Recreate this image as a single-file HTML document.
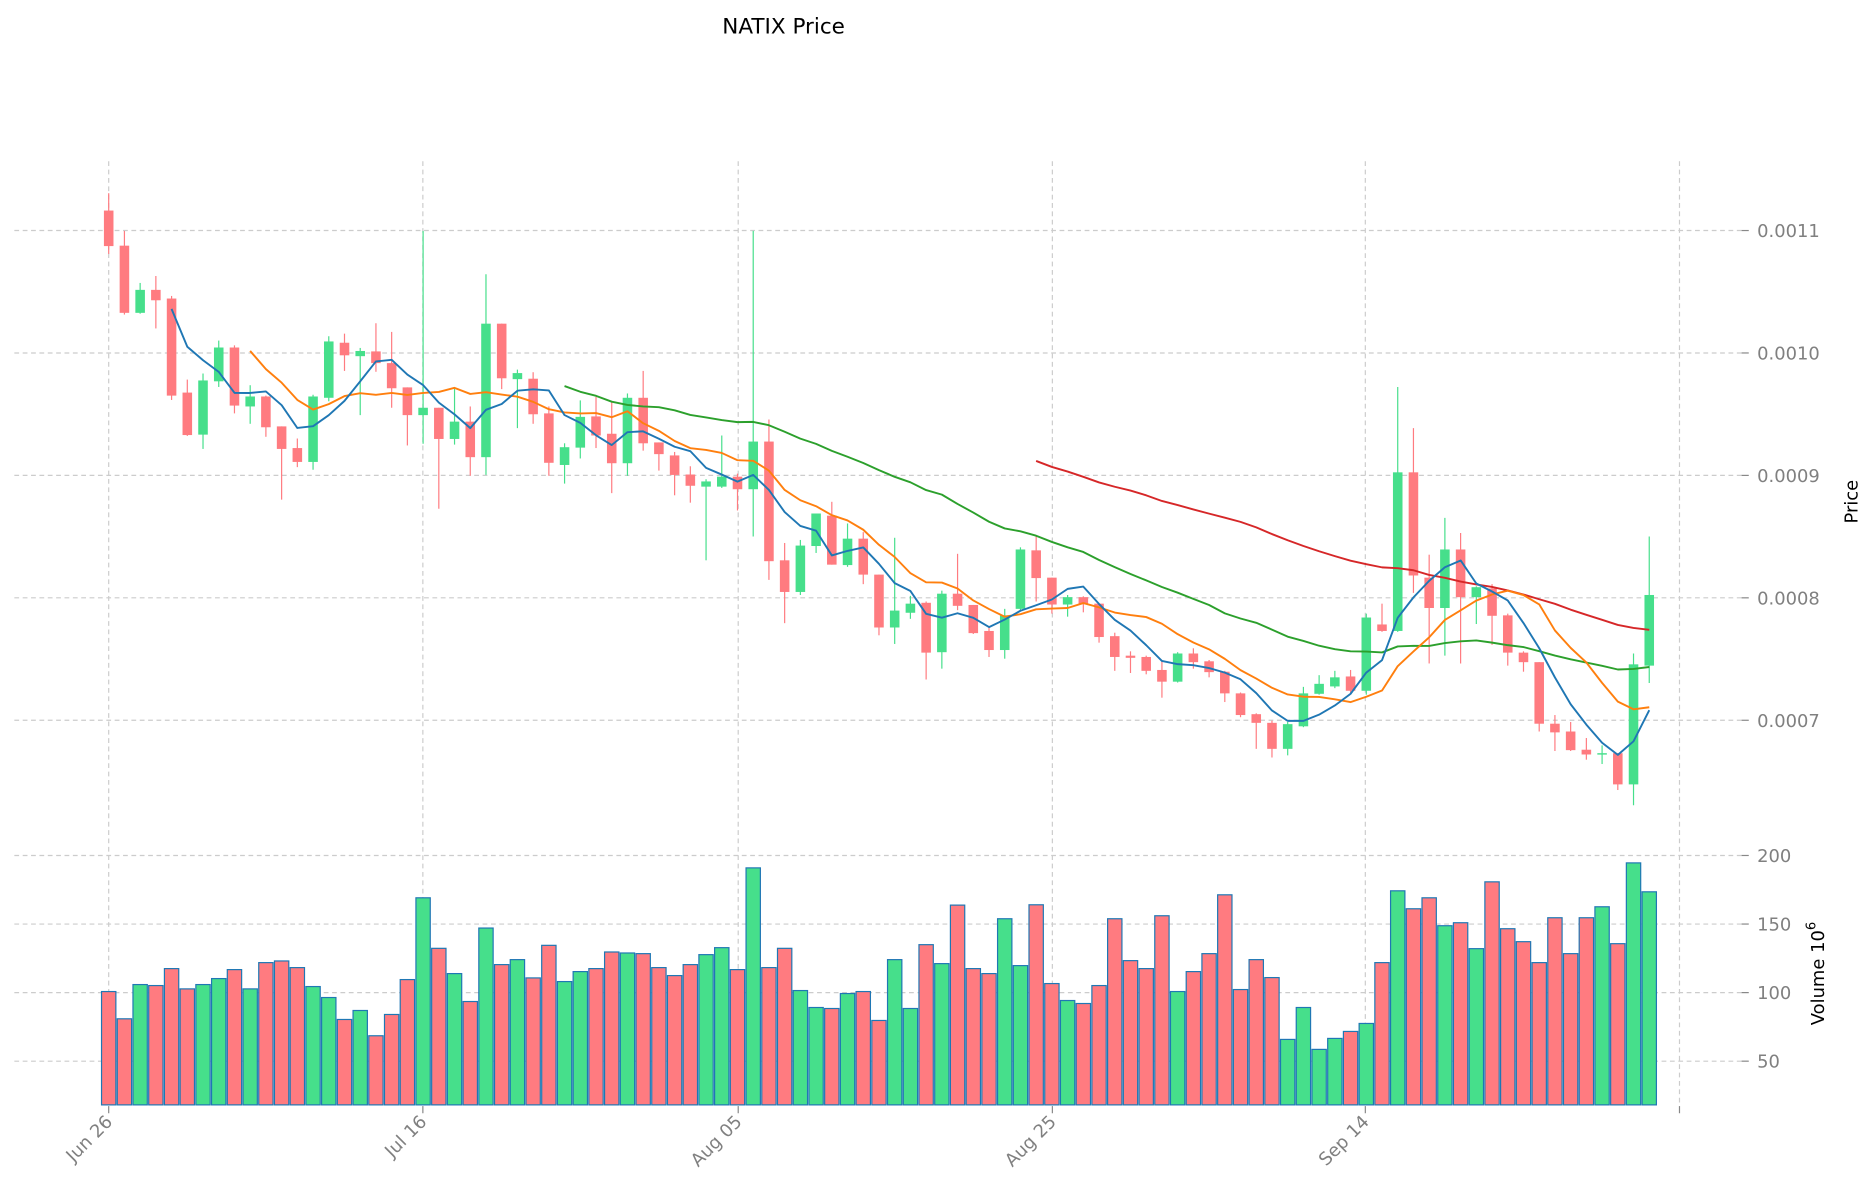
<!DOCTYPE html>
<html><head><meta charset="utf-8"><style>html,body{margin:0;padding:0;background:#fff}svg{display:block}</style></head>
<body>
<svg id="s" xmlns="http://www.w3.org/2000/svg" width="1873" height="1202" viewBox="0 0 1568 1006.3" preserveAspectRatio="none" font-family="'DejaVu Sans','Liberation Sans',sans-serif">
<text x="656" y="28" font-size="18" text-anchor="middle" fill="#000">NATIX Price</text>
<g id="grid"></g>
<g id="vol"></g>
<g id="cdl"></g>
<g id="ma"></g>
<g id="axes"></g>
<text transform="translate(1555,420) rotate(-90)" font-size="15" text-anchor="middle" fill="#000">Price</text>
<text transform="translate(1527,815) rotate(-90)" font-size="15" text-anchor="middle" fill="#000">Volume  10<tspan dy="-7" font-size="11">6</tspan></text>
</svg>
<script>
var NS="http://www.w3.org/2000/svg";
function el(p,t,a,txt){var e=document.createElementNS(NS,t);for(var k in a)e.setAttribute(k,a[k]);if(txt!==undefined)e.textContent=txt;document.getElementById(p).appendChild(e);return e;}
var G="#46df8b",R="#ff7b80";
// [bodyTop, bodyBottom, wickTop, wickBottom, up?] in zoom coords
var C=[
[138,220,98,238,0],[219,374,185,378,0],[321,374,305,376,1],[321,345,289,410,0],[341,565,335,575,0],
[558,656,528,658,0],[530,655,514,688,1],[454,532,438,545,1],[454,588,449,606,0],[567,590,541,630,1],
[567,638,565,660,0],[636,688,636,805,0],[686,718,664,730,0],[567,718,563,736,1],[440,570,428,578,1],
[443,472,422,508,0],[462,474,455,610,1],[463,490,398,510,0],[490,548,418,593,0],[546,610,546,680,0],
[593,610,185,676,1],[593,665,593,826,0],[625,665,548,678,1],[625,707,590,750,0],[399,707,285,748,1],
[399,525,399,550,0],[513,527,505,640,1],[526,608,511,630,0],[606,720,590,750,0],[684,725,675,768,1],
[614,685,576,710,1],[613,657,568,686,0],[653,721,580,790,0],[570,721,560,750,1],[570,675,508,692,0],
[673,700,673,738,0],[703,748,695,795,0],[747,773,728,812,0],[763,775,758,945,1],[752,775,657,778,1],
[752,781,745,830,0],[671,781,185,890,1],[671,947,620,990,0],[945,1018,905,1090,0],[911,1018,898,1025,1],
[837,912,837,928,1],[842,955,810,955,0],[895,956,860,960,1],[895,978,880,1000,0],[978,1100,978,1118,0],
[1061,1100,893,1138,1],[1045,1066,1027,1080,1],[1043,1158,1040,1220,0],
[1022,1157,1015,1195,1],[1022,1050,930,1060,0],[1048,1113,1048,1115,0],[1108,1152,1100,1168,0],[1072,1152,1057,1172,1],
[920,1057,915,1060,1],[922,986,888,1040,0],[985,1047,985,1068,0],[1030,1047,1025,1075,1],[1030,1045,1028,1065,0],
[1045,1122,1045,1135,0],[1120,1168,1112,1200,0],[1165,1170,1155,1205,0],[1168,1200,1165,1208,0],[1198,1225,1178,1262,0],
[1160,1225,1157,1227,1],[1160,1180,1148,1195,0],[1178,1203,1175,1215,0],[1202,1252,1200,1272,0],[1252,1302,1250,1307,0],
[1300,1320,1298,1380,0],[1320,1380,1315,1400,0],[1323,1380,1318,1395,1],[1252,1328,1237,1330,1],[1230,1253,1210,1255,1],
[1215,1236,1200,1240,1],[1213,1246,1198,1250,0],[1077,1246,1068,1255,1],[1093,1108,1045,1110,0],[742,1108,545,1110,1],
[742,980,640,1020,0],[985,1055,932,1183,0],[920,1055,847,1165,1],[920,1030,882,1183,0],[1007,1030,1005,1092,1],
[1010,1073,1000,1140,0],[1072,1158,1068,1188,0],[1158,1180,1155,1202,0],[1180,1322,1180,1340,0],[1322,1342,1302,1385,0],
[1340,1383,1318,1385,0],[1382,1393,1355,1405,0],[1390,1393,1372,1415,1],[1390,1462,1390,1475,0],[1185,1462,1160,1510,1],
[1025,1188,890,1228,1]];
var V=[487,569,466,469,418,479,466,448,421,479,400,395,415,472,505,571,544,620,556,451,205,357,433,517,296,406,391,446,348,457,427,418,368,371,373,415,439,406,376,355,421,115,415,357,484,535,538,493,487,574,391,538,346,403,227,418,433,268,409,226,463,514,523,469,268,394,418,259,487,427,373,196,481,391,445,631,535,661,628,607,583,400,184,238,205,289,280,358,157,298,337,400,265,373,265,232,343,100,187];
function Y(z){return 126.2+z/2.756;}
function X(i){return 91+13.16*i;}
// grid
var gc="#cccccc";
[0.0011,0.0010,0.0009,0.0008,0.0007].forEach(function(p){var y=603-(p-0.0007)*1025000;
 el("grid","line",{x1:12,x2:1458,y1:y,y2:y,stroke:gc,"stroke-width":1,"stroke-dasharray":"4,3"});
 el("axes","line",{x1:1458,x2:1464,y1:y,y2:y,stroke:"#888","stroke-width":1});
 el("axes","text",{x:1471,y:y+5.5,"font-size":15,fill:"#808080"},p.toFixed(4));});
[200,150,100,50].forEach(function(v){var y=831-(v-100)*1.148;
 el("grid","line",{x1:12,x2:1458,y1:y,y2:y,stroke:gc,"stroke-width":1,"stroke-dasharray":"4,3"});
 el("axes","line",{x1:1458,x2:1464,y1:y,y2:y,stroke:"#888","stroke-width":1});
 el("axes","text",{x:1471,y:y+5.5,"font-size":15,fill:"#808080"},String(v));});
var xt=[[91,"Jun 26"],[354,"Jul 16"],[618,"Aug 05"],[881,"Aug 25"],[1143,"Sep 14"],[1406,""]];
xt.forEach(function(t){
 el("grid","line",{x1:t[0],x2:t[0],y1:135,y2:926,stroke:gc,"stroke-width":1,"stroke-dasharray":"4,3"});
 el("axes","line",{x1:t[0],x2:t[0],y1:926,y2:932,stroke:"#888","stroke-width":1});
 if(t[1])el("axes","text",{transform:"translate("+(t[0]+4)+",940) rotate(-45)","font-size":15,fill:"#808080","text-anchor":"end"},t[1]);});
// volume
V.forEach(function(z,i){var y=716+(z-77)/3.593;var c=C[i][4]?G:R;
 el("vol","rect",{x:X(i)-6,y:y,width:12,height:925-y,fill:c,stroke:"#1f77b4","stroke-width":1});});
// candles
var closes=[];
C.forEach(function(c,i){var x=X(i),col=c[4]?G:R;
 el("cdl","line",{x1:x,x2:x,y1:Y(c[2]),y2:Y(c[3]),stroke:col,"stroke-width":1});
 var t=Y(c[0]),b=Y(c[1]);if(b-t<1.2)b=t+1.2;
 el("cdl","rect",{x:x-4,y:t,width:8,height:b-t,fill:col});
 closes.push(c[4]?Y(c[0]):Y(c[1]));});
function ma(n,col){var pts=[];for(var i=n-1;i<closes.length;i++){var s=0;for(var j=i-n+1;j<=i;j++)s+=closes[j];pts.push(X(i).toFixed(1)+","+(s/n).toFixed(1));}
 el("ma","polyline",{points:pts.join(" "),fill:"none",stroke:col,"stroke-width":1.6,"stroke-linejoin":"round"});}
ma(60,"#d62728");ma(30,"#2ca02c");ma(10,"#ff7f0e");ma(5,"#1f77b4");
</script>
</body></html>
